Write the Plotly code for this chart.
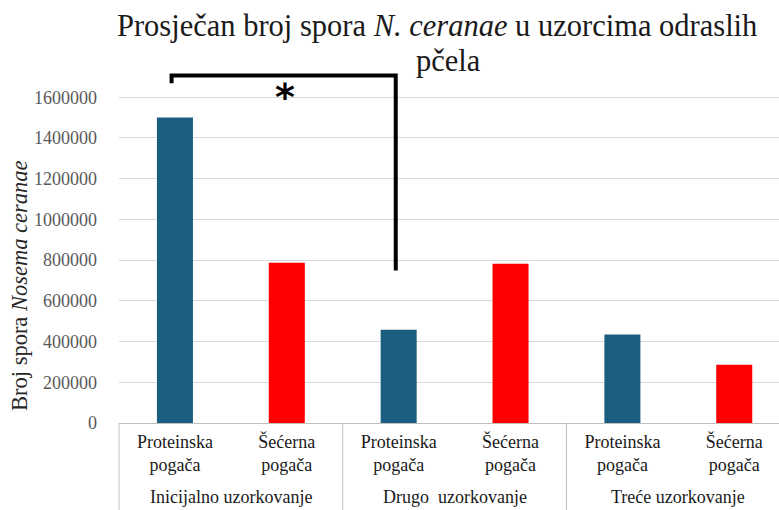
import plotly.graph_objects as go

categories = ["Proteinska<br>pogača", "Šećerna<br>pogača",
              "Proteinska<br>pogača", "Šećerna<br>pogača",
              "Proteinska<br>pogača", "Šećerna<br>pogača"]
groups = ["Inicijalno uzorkovanje", "Drugo  uzorkovanje", "Treće uzorkovanje"]
values = [1500000, 787000, 458000, 782000, 435000, 286000]
bar_colors = ["#1B5E80", "#FF0000", "#1B5E80", "#FF0000", "#1B5E80", "#FF0000"]
y_ticks = [0, 200000, 400000, 600000, 800000, 1000000, 1200000, 1400000, 1600000]

W, H = 779, 510
ML, MR, MT, MB = 119, 0, 68, 87
plot_w = W - ML - MR
plot_h = H - MT - MB
x_lo, x_hi = -0.5, 5.4
y_max = 1600000 * plot_h / 325.8

def px_to_paper_y(p):
    return (H - MB - p) / plot_h

def px_to_paper_x(p):
    return (p - ML) / plot_w

def data_x_to_paper(x):
    return (x - x_lo) / (x_hi - x_lo)

xs = list(range(len(values)))

fig = go.Figure()
fig.add_trace(go.Bar(x=xs, y=values, marker=dict(color=bar_colors, line=dict(width=0)),
                     width=0.322, showlegend=False, hoverinfo="skip"))

serif = "Liberation Serif"

fig.update_layout(
    width=W, height=H,
    margin=dict(l=ML, r=MR, t=MT, b=MB, pad=0),
    paper_bgcolor="white", plot_bgcolor="white",
    font=dict(family=serif),
    xaxis=dict(range=[x_lo, x_hi], tickvals=xs, ticktext=categories,
               showgrid=False, zeroline=False, showline=True, linecolor="#BFBFBF",
               linewidth=1, ticks="", tickfont=dict(family=serif, size=18, color="#1a1a1a"),
               ticklabelstandoff=2, fixedrange=True, automargin=False),
    yaxis=dict(range=[0, y_max], tickvals=y_ticks, tickformat="d",
               showgrid=True, gridcolor="#D9D9D9", gridwidth=1, zeroline=False,
               showline=False, ticks="", tickfont=dict(family=serif, size=18, color="#595959"),
               ticklabelstandoff=21, fixedrange=True, automargin=False),
)

# group labels
for i, g in enumerate(groups):
    fig.add_annotation(x=2 * i + 0.5, y=px_to_paper_y(497), xref="x", yref="paper",
                       text=g, showarrow=False, yanchor="middle", xanchor="center",
                       font=dict(family=serif, size=18, color="#1a1a1a"))

# group separators
for b in [-0.5, 1.5, 3.5]:
    xp = data_x_to_paper(b)
    fig.add_shape(type="line", xref="paper", yref="paper", x0=xp, x1=xp,
                  y0=0, y1=px_to_paper_y(515), line=dict(color="#BFBFBF", width=1))

# significance bracket
fig.add_shape(type="path", xref="x", yref="y",
              path="M -0.03,1669000 L -0.03,1706000 L 1.974,1706000 L 1.974,749000",
              line=dict(color="black", width=4))
fig.add_annotation(x=0.985, y=px_to_paper_y(97), xref="x", yref="paper", text="<b>*</b>",
                   showarrow=False, yanchor="middle", xanchor="center",
                   font=dict(family="DejaVu Sans", size=38, color="black"))

# title
fig.add_annotation(x=px_to_paper_x(437), y=px_to_paper_y(26), xref="paper", yref="paper",
                   text="Prosječan broj spora <i>N. ceranae</i> u uzorcima odraslih",
                   showarrow=False, xanchor="center", yanchor="middle",
                   font=dict(family=serif, size=30.5, color="#1a1a1a"))
fig.add_annotation(x=px_to_paper_x(448), y=px_to_paper_y(61), xref="paper", yref="paper",
                   text="pčela", showarrow=False, xanchor="center", yanchor="middle",
                   font=dict(family=serif, size=30.5, color="#1a1a1a"))

# y axis title
fig.add_annotation(x=px_to_paper_x(19), y=px_to_paper_y(286), xref="paper", yref="paper",
                   text="Broj spora <i>Nosema ceranae</i>", textangle=-90, showarrow=False,
                   xanchor="center", yanchor="middle",
                   font=dict(family=serif, size=22.5, color="#262626"))

fig.write_html("out.html", post_script="document.body.style.margin='0';",
               config={"displayModeBar": False})
